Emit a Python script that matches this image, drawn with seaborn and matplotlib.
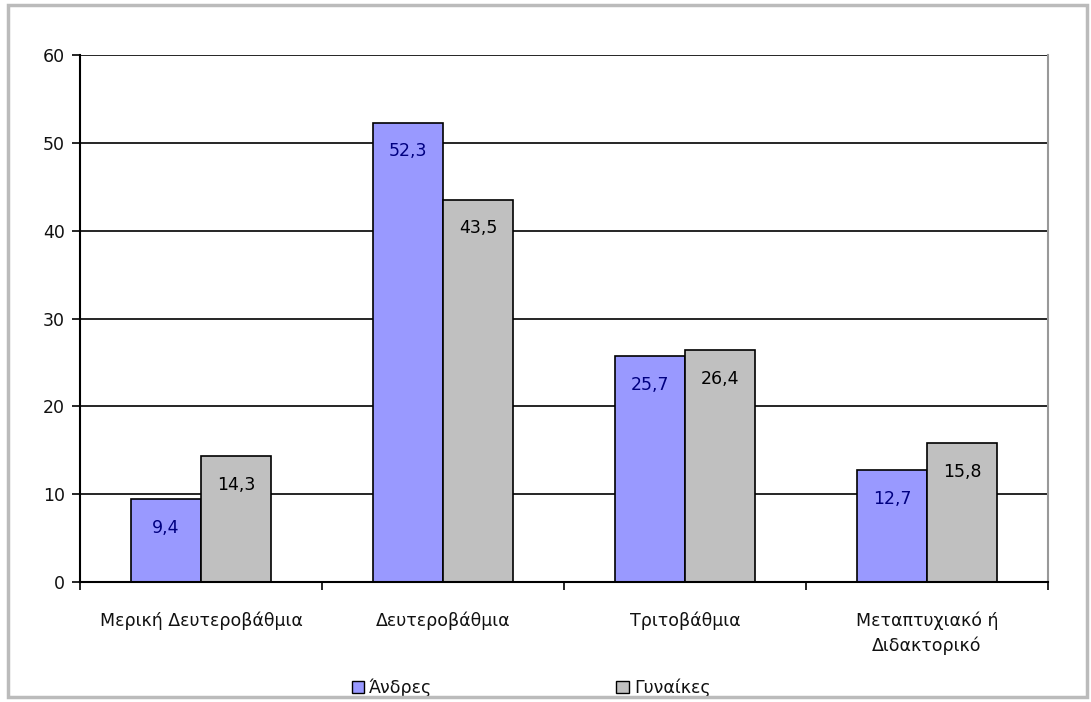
import matplotlib
matplotlib.use("Agg")
import matplotlib.pyplot as plt
import seaborn as sns
import pandas as pd
from matplotlib.patches import Rectangle

categories = ["Μερική Δευτεροβάθμια", "Δευτεροβάθμια", "Τριτοβάθμια", "Μεταπτυχιακό ή\nΔιδακτορικό"]
series_names = ["Άνδρες", "Γυναίκες"]
men = [9.4, 52.3, 25.7, 12.7]
women = [14.3, 43.5, 26.4, 15.8]
y_ticks = [0, 10, 20, 30, 40, 50, 60]

colors = ["#9999FF", "#C0C0C0"]
label_colors = ["#000080", "#000000"]

df = pd.DataFrame({
    "cat": categories * 2,
    "series": [series_names[0]] * 4 + [series_names[1]] * 4,
    "value": men + women,
})

sns.set_theme(style="white")
plt.rcParams['font.family'] = ['DejaVu Sans']
plt.rcParams['text.color'] = '#111111'
FS = 12.5

fig = plt.figure(figsize=(10.91, 7.02), dpi=100)
ax = fig.add_axes([80/1091, 1 - 582/702, (1048-80)/1091, (582-55)/702])

sns.barplot(data=df, x="cat", y="value", hue="series", order=categories,
            hue_order=series_names, palette=colors, width=0.58, saturation=1,
            edgecolor="#000000", linewidth=1.2, ax=ax, legend=True)

for i, cont in enumerate(ax.containers):
    ax.bar_label(cont, labels=[f"{v:.1f}".replace(".", ",") for v in cont.datavalues],
                 label_type="edge", padding=-27, color=label_colors[i], fontsize=FS)

ax.set_ylim(0, 60)
ax.set_yticks(y_ticks)
ax.set_xlim(-0.5, 3.5)
ax.yaxis.grid(True, color="#000000", linewidth=1.2)
ax.set_axisbelow(True)
ax.set_xlabel("")
ax.set_ylabel("")

for s in ["left", "bottom"]:
    ax.spines[s].set_color("#000000")
    ax.spines[s].set_linewidth(1.5)
ax.spines["right"].set_color("#999999")
ax.spines["right"].set_linewidth(1.5)
ax.spines["top"].set_visible(False)

ax.tick_params(axis="y", which="major", left=True, length=6, width=1.2, color="#000000",
               labelsize=FS, pad=5, labelcolor="#111111")
ax.tick_params(axis="x", which="major", bottom=False, labelsize=FS, pad=15, labelcolor="#111111")
ax.set_xticks([0, 1, 2, 3])
ax.set_xticklabels(categories, linespacing=1.5)
ax.set_xticks([-0.5, 0.5, 1.5, 2.5, 3.5], minor=True)
ax.tick_params(axis="x", which="minor", bottom=True, length=6, width=1.2, color="#000000")

leg = ax.legend(loc="center", bbox_to_anchor=(0.466, -0.201), ncol=2, frameon=False,
                fontsize=FS, handlelength=0.7, handleheight=0.7, handletextpad=0.3,
                columnspacing=10.6, borderpad=0)
for h in leg.legend_handles:
    h.set_edgecolor("#000000")
    h.set_linewidth(1.0)
for t in leg.get_texts():
    t.set_color("#111111")

fig.patches.append(Rectangle((8/1091, 5/702), (1087-8)/1091, (697-5)/702,
                             transform=fig.transFigure, fill=False,
                             edgecolor="#BBBBBB", linewidth=2.5))

fig.savefig("out.png", dpi=100)
